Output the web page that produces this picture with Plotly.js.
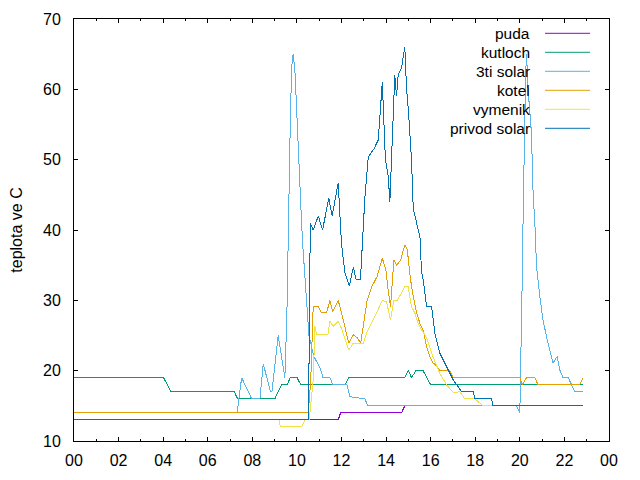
<!DOCTYPE html>
<html>
<head>
<meta charset="utf-8">
<script src="https://cdn.plot.ly/plotly-3.0.1.min.js"></script>
<style>
  html, body { margin: 0; padding: 0; background: #fff; }
  #chart { width: 640px; height: 480px; }
  /* thin 1px traces drawn without smoothing, so overlapping flat runs stay one colour */
  #chart .scatterlayer path.js-line { shape-rendering: crispEdges; }
</style>
</head>
<body>
<div id="chart"></div>
<script>
// Temperature log for one day, hours 0-24, temperatures in deg C.

const seriesNames = ["puda", "kutloch", "3ti solar", "kotel", "vymenik", "privod solar"];
const seriesColors = ["#9400d3", "#009e73", "#56b4e9", "#e69f00", "#f0e442", "#0072b2"];

const hourTicks = [0, 2, 4, 6, 8, 10, 12, 14, 16, 18, 20, 22, 24];
const hourTickLabels = ["00", "02", "04", "06", "08", "10", "12", "14", "16", "18", "20", "22", "00"];

// puda
const pudaHours = [0, 11.85, 11.96, 14.69, 14.84, 22.84];
const pudaTemps = [13, 13, 14, 14, 15, 15];

// kutloch
const kutlochHours = [0, 4.02, 4.35, 7.19, 7.34, 9.01, 9.31, 9.58, 9.69, 10.01, 10.17, 12.15, 12.33,
  14.84, 15.0, 15.14, 15.34, 15.66, 16.0, 22.84];
const kutlochTemps = [19, 19, 17, 17, 16, 16, 18, 18, 19, 19, 18, 18, 19,
  19, 20, 19, 20, 20, 18, 18];

// 3ti solar
const solar3Hours = [0, 7.32, 7.52, 7.97, 8.34, 8.49, 8.81, 8.88, 9.16, 9.46, 9.55, 9.62, 9.69, 9.76,
  9.83, 9.91, 9.99, 10.06, 10.13, 10.21, 10.28, 10.36, 10.43, 10.54, 10.76, 11.03, 11.17, 11.48,
  11.61, 12.24, 12.38, 13.05, 13.18, 19.85, 20.0, 20.03, 20.08, 20.12, 20.15, 20.19, 20.26, 20.3,
  20.37, 20.52, 20.6, 20.67, 20.75, 20.9, 21.04, 21.2, 21.35, 21.49, 21.67, 21.79, 21.94, 22.17,
  22.32, 22.47, 22.84];
const solar3Temps = [14, 14, 19, 16, 16, 21, 17, 17, 25, 19, 28, 42, 53, 63,
  65, 62.7, 57, 51.4, 44.7, 41, 37, 33.3, 29.6, 25, 22, 20.5, 19, 19,
  18, 18, 16.3, 16, 15, 15, 14, 18.2, 26.8, 35.3, 42.5, 51, 62, 65,
  60, 53.8, 44.7, 41.4, 34.8, 30.5, 27.2, 24.8, 23, 21.1, 22, 20.1, 19, 19,
  18, 17, 17];

// kotel
const kotelHours = [0, 10.51, 10.62, 10.73, 10.96, 11.11, 11.33, 11.48, 11.6, 11.85, 12.0, 12.15,
  12.33, 12.52, 12.7, 12.86, 13.15, 13.35, 13.6, 13.83, 13.99, 14.09, 14.2, 14.35, 14.47, 14.65,
  14.84, 14.95, 15.1, 15.22, 15.37, 15.52, 15.66, 15.82, 15.96, 16.11, 16.19, 16.41, 16.86, 17.01,
  20.0, 20.12, 20.3, 20.67, 20.82, 22.69, 22.84];
const kotelTemps = [14, 14, 18.7, 29.1, 29.1, 28.2, 28.2, 30, 28.4, 30, 28.2, 26.3,
  23.9, 25.1, 24.7, 23.9, 30, 31.9, 33.4, 36, 34.3, 31.5, 29.1, 35.7, 35, 35.7,
  37.9, 37.2, 32.9, 30.5, 28.2, 26.7, 25.8, 23.4, 22, 21.1, 20.9, 20, 20, 19,
  19, 18, 19, 19, 18, 18, 19];

// vymenik
const vymenikHours = [0, 9.2, 9.26, 10.21, 10.36, 10.55, 10.73, 10.81, 10.88, 11.03, 11.17, 11.39,
  11.48, 11.63, 11.85, 12.0, 12.15, 12.33, 12.52, 12.97, 13.15, 13.35, 13.57, 13.83, 14.02, 14.2,
  14.35, 14.5, 14.69, 14.84, 14.99, 15.14, 15.29, 15.44, 15.59, 15.82, 16.04, 16.26, 16.41, 16.71,
  17.01, 17.31, 17.53, 17.98, 18.35, 22.84];
const vymenikTemps = [13, 13, 12, 12, 13, 13, 18.7, 26.3, 25.1, 25.1, 25.1, 25.1,
  27, 26.3, 27, 26, 24.6, 22.9, 23.9, 23.9, 25.5, 26.7, 28.2, 30, 29.8, 27.2,
  30, 30, 31, 31.9, 31.9, 29.1, 28.2, 26.7, 25.8, 24.7, 22.5, 20.6, 19.6, 18,
  16.9, 17, 16, 16, 15, 15];

// privod solar
const privodHours = [0, 10.52, 10.6, 10.73, 10.96, 11.15, 11.43, 11.58, 11.85, 12.0, 12.15, 12.35,
  12.53, 12.65, 12.85, 12.98, 13.05, 13.2, 13.45, 13.65, 13.75, 13.83, 13.97, 14.1, 14.17, 14.25,
  14.32, 14.39, 14.47, 14.54, 14.69, 14.84, 14.92, 15.0, 15.14, 15.22, 15.52, 15.59, 15.66, 15.82,
  16.04, 16.19, 16.41, 16.71, 17.01, 17.39, 17.91, 17.98, 18.73, 18.8, 22.84];
const privodTemps = [13, 13, 41, 40, 42, 40, 44.5, 42, 46.7, 38, 34, 32,
  34.7, 33, 33, 40, 44.7, 50.4, 51.5, 52.8, 57, 61, 50, 47.5, 44, 50,
  56, 62, 59, 62, 63, 66, 60, 57, 50, 43, 39, 34, 33, 29.1,
  29.1, 25.3, 22.5, 20.6, 18.7, 17, 17, 16, 16, 15, 15];

const hoursBySeries = [pudaHours, kutlochHours, solar3Hours, kotelHours, vymenikHours, privodHours];
const tempsBySeries = [pudaTemps, kutlochTemps, solar3Temps, kotelTemps, vymenikTemps, privodTemps];

const FONT = "Liberation Sans, Arial, sans-serif";
const FS_AXIS = 16;
const FS_KEY = 15.5;

const traces = seriesNames.map((name, i) => ({
  type: "scatter",
  mode: "lines",
  name: name,
  x: hoursBySeries[i],
  y: tempsBySeries[i],
  line: { color: seriesColors[i], width: 1 },
  hoverinfo: "skip"
}));

// Plot-area geometry in pixels, used to place the key box at the top right.
const W = 640, H = 480;
const M = { l: 74, r: 31, t: 19, b: 39 };
const plotW = W - M.l - M.r, plotH = H - M.t - M.b;
const px = v => (v - M.l) / plotW;
const py = v => (H - M.b - v) / plotH;

const keyTextRight = 532, keyLineX0 = 545, keyLineX1 = 590, keyTop = 33.3, keyStep = 19;

const annotations = seriesNames.map((name, i) => ({
  xref: "paper", yref: "paper",
  x: px(keyTextRight), y: py(keyTop + i * keyStep),
  xanchor: "right", yanchor: "middle",
  text: name, showarrow: false,
  font: { family: FONT, size: FS_KEY, color: "#000" }
}));

const shapes = seriesNames.map((name, i) => ({
  type: "line", xref: "paper", yref: "paper",
  x0: px(keyLineX0), x1: px(keyLineX1),
  y0: py(keyTop + i * keyStep), y1: py(keyTop + i * keyStep),
  line: { color: seriesColors[i], width: 1 }
}));

const axisCommon = {
  showline: true, linecolor: "#000", linewidth: 1, mirror: "ticks",
  ticks: "inside", ticklen: 4, tickcolor: "#000", tickwidth: 1,
  showgrid: false, zeroline: false,
  tickfont: { family: FONT, size: FS_AXIS, color: "#000" }
};

const layout = {
  width: W, height: H,
  margin: M,
  paper_bgcolor: "#fff", plot_bgcolor: "#fff",
  showlegend: false,
  font: { family: FONT, size: FS_AXIS, color: "#000" },
  xaxis: Object.assign({}, axisCommon, {
    range: [0, 24],
    tickmode: "array", tickvals: hourTicks, ticktext: hourTickLabels,
    minor: { dtick: 1, tick0: 0, ticks: "inside", ticklen: 2, tickcolor: "#000", tickwidth: 1 },
    ticklabelstandoff: 5
  }),
  yaxis: Object.assign({}, axisCommon, {
    range: [10, 70], tickmode: "linear", tick0: 10, dtick: 10,
    ticklabelstandoff: 9,
    title: { text: "teplota ve C", font: { family: FONT, size: FS_AXIS, color: "#000" }, standoff: 16 }
  }),
  annotations: annotations,
  shapes: shapes
};

Plotly.newPlot("chart", traces, layout, { displayModeBar: false, staticPlot: true });
</script>
</body>
</html>
